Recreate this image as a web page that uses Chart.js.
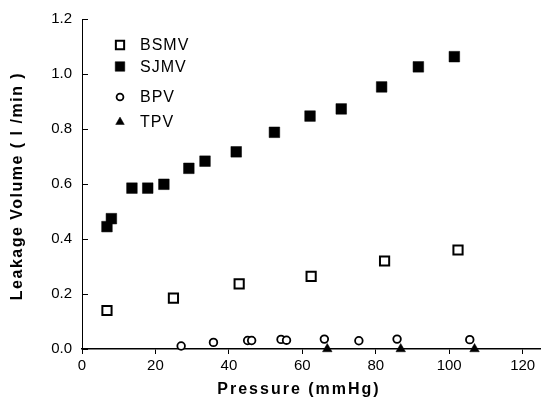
<!DOCTYPE html>
<html><head><meta charset="utf-8">
<script src="https://cdn.jsdelivr.net/npm/chart.js@4.4.1/dist/chart.umd.min.js"></script>
<style>html,body{margin:0;padding:0;background:#fff;overflow:hidden}#wrap{width:541px;height:399px}</style>
</head><body><div id="wrap"><canvas id="c" width="541" height="399"></canvas></div>
<script>
// ---- data ----
const seriesNames = ['BSMV', 'SJMV', 'BPV', 'TPV'];
const bsmvX = [6.8, 24.9, 42.8, 62.4, 82.4, 102.4];
const bsmvY = [0.140, 0.185, 0.237, 0.264, 0.320, 0.360];
const sjmvX = [6.8, 8.0, 13.6, 17.9, 22.3, 29.1, 33.5, 42.0, 52.4, 62.1, 70.6, 81.6, 91.6, 101.4];
const sjmvY = [0.445, 0.474, 0.585, 0.585, 0.599, 0.657, 0.683, 0.717, 0.788, 0.847, 0.873, 0.953, 1.026, 1.063];
const bpvX = [27.0, 35.8, 45.1, 46.2, 54.2, 55.7, 66.0, 75.4, 85.8, 105.6];
const bpvY = [0.011, 0.024, 0.031, 0.031, 0.035, 0.032, 0.036, 0.030, 0.036, 0.034];
const tpvX = [66.8, 86.8, 106.9];
const tpvY = [0, 0, 0];
const xTickValues = [0, 20, 40, 60, 80, 100, 120];
const yTickValues = [0, 0.2, 0.4, 0.6, 0.8, 1.0, 1.2];
const xTitle = 'Pressure (mmHg)';
const yTitle = 'Leakage Volume ( l /min )';

const zip = (xs, ys) => xs.map((x, i) => ({ x: x, y: ys[i] }));

const datasets = [
  { label: seriesNames[0], data: zip(bsmvX, bsmvY), pointStyle: 'rect', pointRadius: 6.5,
    backgroundColor: '#fff', borderColor: '#000', borderWidth: 2 },
  { label: seriesNames[1], data: zip(sjmvX, sjmvY), pointStyle: 'rect', pointRadius: 7.5,
    backgroundColor: '#000', borderColor: '#000', borderWidth: 0.5 },
  { label: seriesNames[2], data: zip(bpvX, bpvY), pointStyle: 'circle', pointRadius: 3.8,
    backgroundColor: '#fff', borderColor: '#000', borderWidth: 1.8 },
  { label: seriesNames[3], data: zip(tpvX, tpvY), pointStyle: 'triangle', pointRadius: 5.5,
    backgroundColor: '#000', borderColor: '#000', borderWidth: 0.5 }
].map(d => Object.assign(d, { clip: false, pointHoverRadius: d.pointRadius }));

const tickFont = { family: '"Liberation Sans", Arial, sans-serif', size: 15 };

const extras = {
  id: 'extras',
  afterDraw(chart) {
    const ctx = chart.ctx;
    const ys = chart.scales.y;
    ctx.save();
    // inward ticks on y axis
    ctx.strokeStyle = '#000';
    ctx.lineWidth = 1;
    ys.ticks.forEach(t => {
      const py = Math.round(ys.getPixelForValue(t.value)) + 0.5;
      ctx.beginPath();
      ctx.moveTo(ys.right, py);
      ctx.lineTo(ys.right + 6, py);
      ctx.stroke();
    });
    // axis titles
    ctx.fillStyle = '#000';
    ctx.font = 'bold 16px "Liberation Sans", Arial, sans-serif';
    ctx.textAlign = 'center';
    ctx.textBaseline = 'middle';
    ctx.letterSpacing = '2px';
    ctx.fillText(xTitle, 299, 390);
    ctx.save();
    ctx.translate(18, 186);
    ctx.rotate(-Math.PI / 2);
    ctx.letterSpacing = '1.5px';
    ctx.fillText(yTitle, 0, 0);
    ctx.restore();
    // legend
    const rows = [45, 66.5, 97, 122];
    ctx.font = '16px "Liberation Sans", Arial, sans-serif';
    ctx.letterSpacing = '1px';
    ctx.textAlign = 'left';
    chart.data.datasets.forEach((ds, i) => {
      ctx.fillStyle = ds.backgroundColor;
      ctx.strokeStyle = ds.borderColor;
      ctx.lineWidth = ds.borderWidth;
      Chart.helpers.drawPoint(ctx, { pointStyle: ds.pointStyle, radius: ds.pointRadius * 0.9, borderWidth: ds.borderWidth, rotation: 0 }, 120, rows[i]);
      ctx.fillStyle = '#000';
      ctx.fillText(ds.label, 140, rows[i] + 1);
    });
    ctx.restore();
  }
};

new Chart(document.getElementById('c'), {
  type: 'scatter',
  data: { datasets: datasets },
  options: {
    responsive: false,
    animation: false,
    devicePixelRatio: 1,
    layout: { autoPadding: false, padding: { top: 17, right: 0, left: 0, bottom: 0 } },
    plugins: { legend: { display: false }, tooltip: { enabled: false } },
    scales: {
      x: {
        type: 'linear', position: 'bottom', min: 0, max: 125,
        afterBuildTicks: s => { s.ticks = xTickValues.map(v => ({ value: v })); },
        afterFit: s => { s.height = 50; },
        ticks: { font: tickFont, color: '#000', padding: 3, maxRotation: 0, callback: v => String(v) },
        grid: { drawOnChartArea: false, drawTicks: true, tickLength: 5, color: '#000', lineWidth: 1 },
        border: { display: true, color: '#000', width: 1.5 }
      },
      y: {
        type: 'linear', position: 'left', min: 0, max: 1.2,
        afterBuildTicks: s => { s.ticks = yTickValues.map(v => ({ value: v })); },
        afterFit: s => { s.width = 82; },
        ticks: { font: tickFont, color: '#000', padding: 10, callback: v => Number(v).toFixed(1) },
        grid: { drawOnChartArea: false, drawTicks: false },
        border: { display: true, color: '#000', width: 1 }
      }
    }
  },
  plugins: [extras]
});
</script>
</body></html>
